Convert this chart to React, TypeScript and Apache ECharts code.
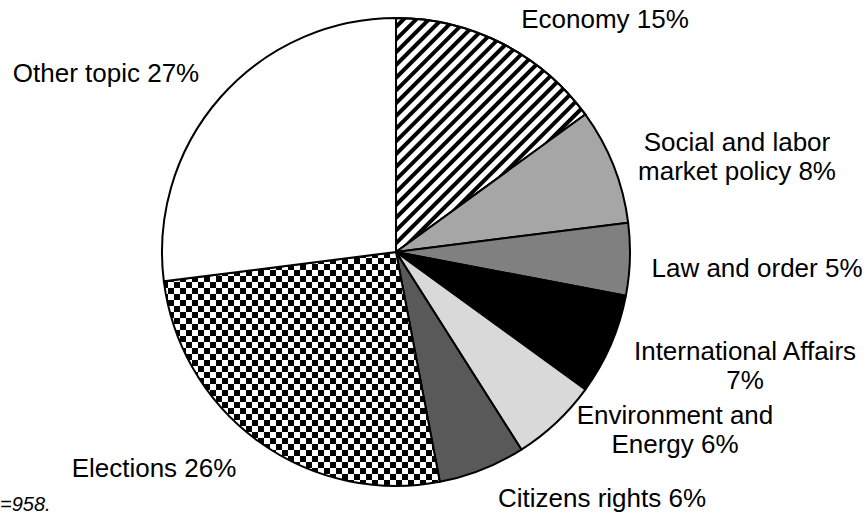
import React, { useEffect, useRef } from "react";
import * as echarts from "echarts";

const categories = [
  "Economy",
  "Social and labor\nmarket policy",
  "Law and order",
  "International Affairs",
  "Environment and\nEnergy",
  "Citizens rights",
  "Elections",
  "Other topic",
];
const shares = [15, 8, 5, 7, 6, 6, 26, 27];
const noteText = "=958.";

const fills = ["#ffffff", "#a6a6a6", "#808080", "#000000", "#d9d9d9", "#595959", "#ffffff", "#ffffff"];
const labelAnchors: [number, number][] = [
  [605, 19],
  [737, 156],
  [757, 268],
  [745, 365],
  [675, 429],
  [602, 498],
  [154, 468],
  [106, 73],
];

const hatch = {
  symbol: "rect",
  symbolSize: 1,
  color: "#000",
  backgroundColor: "#fff",
  dashArrayX: [1, 0],
  dashArrayY: [4, 5],
  rotation: -Math.PI / 4,
};

function checkerCanvas(cell: number) {
  const c = document.createElement("canvas");
  c.width = cell * 2;
  c.height = cell * 2;
  const ctx = c.getContext("2d")!;
  ctx.fillStyle = "#fff";
  ctx.fillRect(0, 0, cell * 2, cell * 2);
  ctx.fillStyle = "#000";
  ctx.fillRect(0, 0, cell, cell);
  ctx.fillRect(cell, cell, cell, cell);
  return c;
}

export default function App() {
  const ref = useRef<HTMLDivElement>(null);
  useEffect(() => {
    if (!ref.current) return;
    const chart = echarts.init(ref.current, undefined, { renderer: "svg" });
    const checker = { image: checkerCanvas(6), repeat: "repeat" };
    const data = categories.map((name, i) => {
      const item: any = { name, value: shares[i], itemStyle: { color: fills[i] } };
      if (i === 0) item.itemStyle.decal = hatch;
      if (i === 6) item.itemStyle.color = checker;
      return item;
    });
    chart.setOption({
      animation: false,
      backgroundColor: "#ffffff",
      series: [
        {
          type: "pie",
          center: [396, 252],
          radius: 234,
          startAngle: 90,
          clockwise: true,
          avoidLabelOverlap: false,
          data,
          itemStyle: { borderColor: "#000", borderWidth: 2 },
          emphasis: { disabled: true },
          labelLine: { show: false },
          label: {
            show: true,
            position: "outside",
            color: "#000",
            fontFamily: "Liberation Sans, Arial, sans-serif",
            fontSize: 26,
            lineHeight: 29,
            align: "center",
            formatter: (p: any) =>
              p.name + (p.name === "International Affairs" ? "\n" : " ") + p.value + "%",
          },
          labelLayout: (p: any) => {
            const a = labelAnchors[p.dataIndex];
            return { x: a[0], y: a[1], align: "center", verticalAlign: "middle", hideOverlap: false };
          },
        },
      ],
      graphic: [
        {
          type: "text",
          left: 0,
          top: 494,
          style: {
            text: noteText,
            font: "italic 20px 'Liberation Sans', Arial, sans-serif",
            fill: "#000",
          },
        },
      ],
    });
    return () => chart.dispose();
  }, []);
  return (
    <div
      ref={ref}
      style={{ position: "fixed", left: 0, top: 0, width: 867, height: 514, background: "#fff" }}
    />
  );
}
